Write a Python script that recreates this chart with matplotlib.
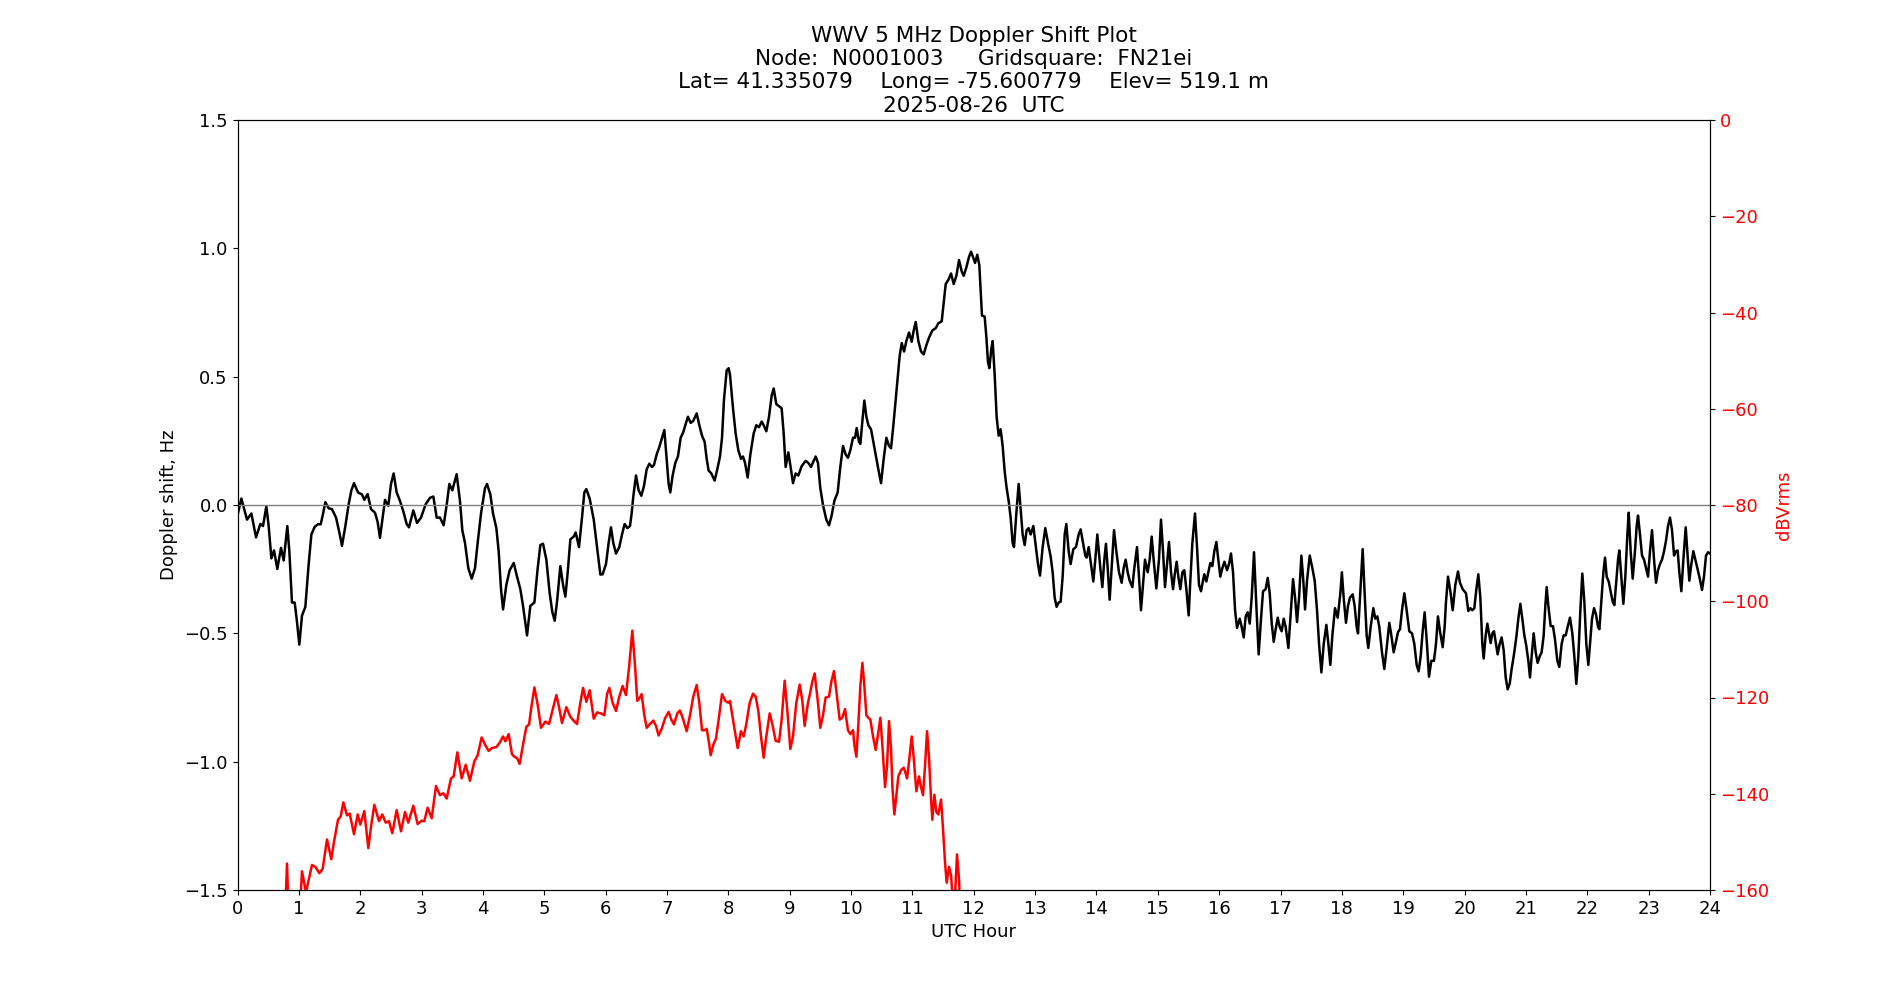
import numpy as np
import matplotlib
matplotlib.use("Agg")
import matplotlib.pyplot as plt

# Doppler shift (hour, Hz)
doppler_pts = [
    (0.000, -0.040), (0.063, 0.025), (0.155, -0.057), (0.226, -0.033), (0.302, -0.126),
    (0.372, -0.074), (0.416, -0.082), (0.470, -0.005), (0.508, -0.082), (0.552, -0.208),
    (0.595, -0.177), (0.649, -0.249), (0.709, -0.167), (0.753, -0.216), (0.812, -0.082),
    (0.845, -0.180), (0.888, -0.380), (0.932, -0.380), (0.964, -0.443), (1.008, -0.544),
    (1.051, -0.431), (1.106, -0.397), (1.160, -0.230), (1.204, -0.115), (1.258, -0.085),
    (1.312, -0.075), (1.356, -0.075), (1.388, -0.041), (1.432, 0.011), (1.486, -0.013),
    (1.540, -0.016), (1.606, -0.049), (1.660, -0.107), (1.703, -0.159), (1.758, -0.082),
    (1.812, 0.003), (1.856, 0.057), (1.899, 0.085), (1.964, 0.049), (2.029, 0.041),
    (2.067, 0.020), (2.121, 0.043), (2.176, -0.016), (2.241, -0.030), (2.284, -0.066),
    (2.322, -0.128), (2.366, -0.049), (2.404, 0.020), (2.458, -0.003), (2.502, 0.082),
    (2.545, 0.123), (2.594, 0.049), (2.648, 0.016), (2.703, -0.025), (2.757, -0.074),
    (2.795, -0.087), (2.866, -0.021), (2.926, -0.070), (2.991, -0.049), (3.067, 0.003),
    (3.137, 0.028), (3.192, 0.033), (3.246, -0.049), (3.300, -0.049), (3.360, -0.079),
    (3.409, 0.000), (3.453, 0.082), (3.501, 0.057), (3.572, 0.120), (3.626, 0.016),
    (3.664, -0.098), (3.708, -0.148), (3.762, -0.246), (3.817, -0.287), (3.871, -0.246),
    (3.914, -0.148), (3.969, -0.033), (4.034, 0.066), (4.067, 0.082), (4.121, 0.041),
    (4.165, -0.033), (4.219, -0.090), (4.257, -0.180), (4.295, -0.328), (4.328, -0.407),
    (4.382, -0.311), (4.436, -0.254), (4.502, -0.226), (4.556, -0.279), (4.610, -0.328),
    (4.654, -0.393), (4.719, -0.508), (4.773, -0.393), (4.839, -0.380), (4.893, -0.246),
    (4.936, -0.156), (4.980, -0.151), (5.034, -0.213), (5.088, -0.344), (5.132, -0.418),
    (5.170, -0.451), (5.208, -0.377), (5.262, -0.238), (5.306, -0.311), (5.344, -0.357),
    (5.382, -0.262), (5.425, -0.134), (5.480, -0.123), (5.512, -0.107), (5.566, -0.164),
    (5.615, -0.049), (5.653, 0.049), (5.686, 0.062), (5.740, 0.025), (5.806, -0.057),
    (5.860, -0.164), (5.914, -0.271), (5.951, -0.270), (6.006, -0.230), (6.049, -0.148),
    (6.087, -0.087), (6.125, -0.148), (6.169, -0.189), (6.223, -0.164), (6.267, -0.115),
    (6.310, -0.074), (6.354, -0.090), (6.397, -0.082), (6.424, -0.033), (6.451, 0.033),
    (6.495, 0.115), (6.538, 0.057), (6.582, 0.036), (6.625, 0.074), (6.669, 0.139),
    (6.712, 0.161), (6.756, 0.148), (6.788, 0.156), (6.832, 0.197), (6.875, 0.226),
    (6.919, 0.262), (6.957, 0.292), (6.995, 0.180), (7.027, 0.082), (7.054, 0.049),
    (7.092, 0.115), (7.136, 0.164), (7.179, 0.189), (7.223, 0.262), (7.266, 0.284),
    (7.310, 0.320), (7.342, 0.344), (7.386, 0.320), (7.429, 0.328), (7.484, 0.357),
    (7.527, 0.311), (7.571, 0.270), (7.614, 0.246), (7.647, 0.180), (7.679, 0.134),
    (7.723, 0.123), (7.777, 0.095), (7.820, 0.139), (7.864, 0.189), (7.897, 0.262),
    (7.929, 0.410), (7.973, 0.525), (8.005, 0.533), (8.027, 0.508), (8.076, 0.377),
    (8.119, 0.279), (8.163, 0.213), (8.206, 0.180), (8.239, 0.189), (8.272, 0.164),
    (8.315, 0.107), (8.359, 0.197), (8.413, 0.279), (8.456, 0.311), (8.500, 0.303),
    (8.543, 0.325), (8.576, 0.311), (8.619, 0.287), (8.663, 0.344), (8.706, 0.426),
    (8.739, 0.454), (8.782, 0.393), (8.826, 0.385), (8.869, 0.377), (8.902, 0.279),
    (8.934, 0.148), (8.978, 0.205), (9.021, 0.139), (9.054, 0.085), (9.097, 0.123),
    (9.141, 0.115), (9.195, 0.151), (9.260, 0.172), (9.304, 0.164), (9.347, 0.148),
    (9.423, 0.189), (9.461, 0.164), (9.499, 0.066), (9.543, 0.000), (9.597, -0.057),
    (9.641, -0.079), (9.684, -0.041), (9.728, 0.016), (9.782, 0.049), (9.825, 0.148),
    (9.869, 0.230), (9.912, 0.197), (9.950, 0.184), (9.988, 0.213), (10.032, 0.262),
    (10.065, 0.262), (10.092, 0.300), (10.130, 0.246), (10.152, 0.238), (10.185, 0.328),
    (10.217, 0.407), (10.250, 0.344), (10.282, 0.311), (10.326, 0.295), (10.369, 0.238),
    (10.413, 0.180), (10.445, 0.139), (10.489, 0.085), (10.532, 0.180), (10.576, 0.262),
    (10.619, 0.230), (10.652, 0.221), (10.690, 0.311), (10.728, 0.410), (10.760, 0.492),
    (10.793, 0.582), (10.826, 0.631), (10.864, 0.598), (10.902, 0.639), (10.945, 0.672),
    (10.989, 0.636), (11.021, 0.680), (11.054, 0.713), (11.097, 0.639), (11.141, 0.598),
    (11.184, 0.587), (11.228, 0.623), (11.271, 0.652), (11.325, 0.680), (11.380, 0.689),
    (11.423, 0.708), (11.478, 0.716), (11.510, 0.787), (11.543, 0.861), (11.586, 0.877),
    (11.630, 0.902), (11.673, 0.861), (11.717, 0.893), (11.760, 0.954), (11.804, 0.910),
    (11.836, 0.893), (11.880, 0.926), (11.923, 0.967), (11.956, 0.987), (11.999, 0.959),
    (12.021, 0.943), (12.058, 0.975), (12.091, 0.934), (12.112, 0.836), (12.134, 0.738),
    (12.178, 0.734), (12.205, 0.656), (12.232, 0.557), (12.254, 0.533), (12.286, 0.607),
    (12.308, 0.639), (12.341, 0.508), (12.373, 0.344), (12.406, 0.270), (12.438, 0.295),
    (12.471, 0.230), (12.504, 0.131), (12.536, 0.066), (12.569, 0.016), (12.601, -0.049),
    (12.634, -0.148), (12.656, -0.164), (12.694, -0.033), (12.732, 0.082), (12.764, -0.016),
    (12.797, -0.115), (12.830, -0.156), (12.862, -0.098), (12.895, -0.090), (12.927, -0.115),
    (12.971, -0.082), (13.014, -0.164), (13.047, -0.230), (13.080, -0.275), (13.123, -0.164),
    (13.166, -0.090), (13.210, -0.148), (13.253, -0.200), (13.286, -0.262), (13.319, -0.361),
    (13.351, -0.397), (13.384, -0.380), (13.416, -0.377), (13.449, -0.279), (13.482, -0.115),
    (13.509, -0.074), (13.547, -0.180), (13.579, -0.230), (13.623, -0.172), (13.666, -0.164),
    (13.710, -0.115), (13.742, -0.095), (13.775, -0.139), (13.818, -0.197), (13.840, -0.205),
    (13.873, -0.164), (13.905, -0.221), (13.949, -0.298), (13.981, -0.213), (14.014, -0.115),
    (14.063, -0.246), (14.096, -0.320), (14.128, -0.213), (14.155, -0.151), (14.183, -0.246),
    (14.215, -0.369), (14.248, -0.246), (14.286, -0.098), (14.324, -0.180), (14.367, -0.262),
    (14.411, -0.303), (14.443, -0.246), (14.476, -0.213), (14.509, -0.262), (14.541, -0.295),
    (14.585, -0.320), (14.617, -0.246), (14.661, -0.164), (14.693, -0.279), (14.726, -0.410),
    (14.759, -0.311), (14.791, -0.213), (14.835, -0.262), (14.867, -0.213), (14.900, -0.123),
    (14.932, -0.213), (14.976, -0.325), (15.019, -0.213), (15.052, -0.057), (15.085, -0.180),
    (15.117, -0.320), (15.150, -0.230), (15.182, -0.144), (15.215, -0.262), (15.248, -0.328),
    (15.280, -0.262), (15.307, -0.221), (15.334, -0.279), (15.367, -0.328), (15.400, -0.262),
    (15.432, -0.254), (15.465, -0.328), (15.503, -0.430), (15.530, -0.295), (15.563, -0.148),
    (15.606, -0.033), (15.639, -0.164), (15.671, -0.311), (15.704, -0.336), (15.736, -0.295),
    (15.758, -0.270), (15.791, -0.298), (15.823, -0.262), (15.856, -0.226), (15.889, -0.238),
    (15.921, -0.180), (15.954, -0.144), (15.986, -0.213), (16.019, -0.279), (16.052, -0.246),
    (16.085, -0.221), (16.128, -0.254), (16.161, -0.230), (16.193, -0.189), (16.226, -0.262),
    (16.259, -0.410), (16.291, -0.479), (16.335, -0.443), (16.367, -0.475), (16.400, -0.516),
    (16.432, -0.434), (16.465, -0.418), (16.498, -0.462), (16.530, -0.361), (16.568, -0.184),
    (16.606, -0.393), (16.644, -0.582), (16.682, -0.443), (16.715, -0.336), (16.758, -0.328),
    (16.791, -0.284), (16.824, -0.344), (16.856, -0.459), (16.889, -0.533), (16.921, -0.484),
    (16.954, -0.439), (16.987, -0.475), (17.019, -0.492), (17.052, -0.443), (17.084, -0.475),
    (17.128, -0.557), (17.160, -0.443), (17.204, -0.289), (17.237, -0.361), (17.269, -0.456),
    (17.302, -0.361), (17.340, -0.197), (17.367, -0.279), (17.400, -0.407), (17.432, -0.295),
    (17.476, -0.197), (17.519, -0.246), (17.557, -0.295), (17.595, -0.410), (17.628, -0.541),
    (17.666, -0.652), (17.704, -0.541), (17.747, -0.467), (17.780, -0.541), (17.812, -0.623),
    (17.845, -0.508), (17.888, -0.402), (17.932, -0.439), (17.975, -0.344), (18.000, -0.262),
    (18.029, -0.361), (18.067, -0.459), (18.100, -0.393), (18.132, -0.361), (18.176, -0.348),
    (18.208, -0.393), (18.241, -0.475), (18.263, -0.500), (18.295, -0.361), (18.339, -0.172),
    (18.371, -0.344), (18.404, -0.508), (18.431, -0.557), (18.469, -0.475), (18.513, -0.402),
    (18.545, -0.443), (18.578, -0.434), (18.610, -0.475), (18.654, -0.574), (18.692, -0.639),
    (18.730, -0.557), (18.773, -0.459), (18.806, -0.508), (18.844, -0.574), (18.882, -0.533),
    (18.915, -0.495), (18.947, -0.484), (18.980, -0.410), (19.018, -0.344), (19.056, -0.410),
    (19.099, -0.492), (19.143, -0.500), (19.181, -0.541), (19.219, -0.623), (19.251, -0.648),
    (19.284, -0.590), (19.317, -0.492), (19.349, -0.418), (19.382, -0.525), (19.420, -0.669),
    (19.458, -0.607), (19.501, -0.607), (19.534, -0.541), (19.566, -0.434), (19.599, -0.492),
    (19.643, -0.554), (19.675, -0.475), (19.697, -0.377), (19.730, -0.279), (19.773, -0.344),
    (19.806, -0.410), (19.849, -0.311), (19.893, -0.259), (19.925, -0.303), (19.969, -0.328),
    (20.023, -0.344), (20.061, -0.413), (20.094, -0.402), (20.126, -0.410), (20.159, -0.402),
    (20.192, -0.328), (20.224, -0.270), (20.257, -0.361), (20.289, -0.541), (20.311, -0.598),
    (20.344, -0.508), (20.371, -0.462), (20.398, -0.500), (20.425, -0.538), (20.452, -0.500),
    (20.479, -0.492), (20.507, -0.533), (20.539, -0.582), (20.572, -0.541), (20.604, -0.516),
    (20.637, -0.566), (20.670, -0.672), (20.702, -0.718), (20.735, -0.697), (20.767, -0.639),
    (20.805, -0.582), (20.843, -0.516), (20.876, -0.443), (20.909, -0.385), (20.941, -0.443),
    (20.974, -0.508), (21.006, -0.549), (21.039, -0.607), (21.066, -0.672), (21.093, -0.590),
    (21.126, -0.500), (21.159, -0.574), (21.191, -0.615), (21.224, -0.590), (21.256, -0.574),
    (21.289, -0.508), (21.316, -0.393), (21.338, -0.320), (21.365, -0.393), (21.403, -0.472),
    (21.441, -0.472), (21.474, -0.525), (21.512, -0.607), (21.544, -0.631), (21.582, -0.541),
    (21.615, -0.508), (21.648, -0.508), (21.680, -0.475), (21.718, -0.439), (21.756, -0.500),
    (21.789, -0.590), (21.821, -0.697), (21.854, -0.590), (21.887, -0.410), (21.919, -0.267),
    (21.952, -0.377), (21.984, -0.541), (22.017, -0.623), (22.044, -0.541), (22.077, -0.443),
    (22.110, -0.402), (22.142, -0.426), (22.175, -0.475), (22.197, -0.484), (22.229, -0.377),
    (22.262, -0.262), (22.289, -0.205), (22.316, -0.279), (22.349, -0.298), (22.381, -0.336),
    (22.414, -0.377), (22.441, -0.390), (22.468, -0.311), (22.501, -0.213), (22.522, -0.177),
    (22.555, -0.279), (22.588, -0.385), (22.620, -0.279), (22.653, -0.115), (22.675, -0.030),
    (22.707, -0.180), (22.740, -0.287), (22.772, -0.197), (22.805, -0.082), (22.827, -0.041),
    (22.859, -0.115), (22.892, -0.197), (22.925, -0.213), (22.957, -0.246), (22.990, -0.279),
    (23.022, -0.180), (23.055, -0.098), (23.088, -0.213), (23.120, -0.303), (23.153, -0.254),
    (23.185, -0.230), (23.218, -0.213), (23.251, -0.180), (23.283, -0.139), (23.316, -0.082),
    (23.348, -0.049), (23.381, -0.098), (23.414, -0.197), (23.446, -0.180), (23.473, -0.177),
    (23.500, -0.262), (23.533, -0.336), (23.566, -0.213), (23.604, -0.087), (23.631, -0.180),
    (23.663, -0.295), (23.696, -0.230), (23.729, -0.180), (23.761, -0.213), (23.794, -0.246),
    (23.826, -0.279), (23.870, -0.331), (23.902, -0.279), (23.935, -0.197), (23.968, -0.184),
    (24.000, -0.189),
]

# received level (hour, dBVrms); points below -160 run off the axis
level_pts = [
    (0.763, -170.0), (0.807, -154.5), (0.845, -170.0), (1.013, -165.0), (1.051, -156.1),
    (1.116, -160.5), (1.214, -154.8), (1.269, -155.2), (1.334, -156.5), (1.388, -155.6),
    (1.459, -149.5), (1.529, -153.6), (1.567, -150.4), (1.638, -145.4), (1.682, -144.7),
    (1.725, -141.8), (1.785, -144.5), (1.828, -144.1), (1.899, -148.4), (1.959, -144.3),
    (2.002, -146.4), (2.067, -143.6), (2.132, -151.3), (2.176, -146.9), (2.230, -142.3),
    (2.306, -145.7), (2.360, -144.3), (2.415, -146.0), (2.469, -145.7), (2.523, -148.2),
    (2.594, -143.4), (2.665, -147.8), (2.730, -143.8), (2.784, -146.0), (2.866, -142.5),
    (2.936, -146.3), (3.002, -145.6), (3.045, -145.7), (3.099, -142.9), (3.165, -145.1),
    (3.235, -138.4), (3.300, -140.3), (3.355, -139.9), (3.409, -141.0), (3.480, -136.8),
    (3.523, -136.4), (3.583, -131.4), (3.654, -136.8), (3.719, -134.0), (3.789, -137.3),
    (3.860, -133.3), (3.914, -132.0), (3.979, -128.3), (4.034, -129.8), (4.094, -131.1),
    (4.148, -130.5), (4.219, -130.3), (4.273, -129.4), (4.328, -128.1), (4.366, -129.1),
    (4.420, -127.6), (4.474, -131.8), (4.513, -132.3), (4.556, -132.6), (4.599, -133.8),
    (4.654, -129.8), (4.708, -126.1), (4.752, -125.6), (4.800, -121.1), (4.839, -117.9),
    (4.893, -121.5), (4.947, -126.3), (5.018, -125.0), (5.078, -125.5), (5.132, -122.8),
    (5.197, -119.5), (5.241, -122.0), (5.289, -125.3), (5.360, -122.0), (5.425, -124.0),
    (5.491, -125.0), (5.534, -125.5), (5.588, -121.1), (5.632, -118.0), (5.686, -120.9),
    (5.740, -118.5), (5.806, -124.4), (5.860, -123.1), (5.925, -123.3), (5.979, -123.7),
    (6.023, -119.3), (6.060, -118.0), (6.114, -121.1), (6.169, -122.8), (6.223, -119.8),
    (6.277, -117.6), (6.332, -119.5), (6.386, -113.2), (6.435, -106.1), (6.478, -113.2),
    (6.516, -120.7), (6.549, -120.2), (6.587, -119.3), (6.631, -123.7), (6.669, -126.3),
    (6.723, -125.5), (6.777, -124.8), (6.821, -125.9), (6.864, -127.9), (6.919, -126.3),
    (6.973, -124.2), (7.027, -123.0), (7.071, -124.6), (7.114, -125.6), (7.168, -123.3),
    (7.212, -122.7), (7.266, -124.6), (7.321, -127.0), (7.375, -123.7), (7.429, -119.8),
    (7.484, -117.4), (7.527, -121.1), (7.571, -126.8), (7.619, -126.8), (7.647, -126.5),
    (7.685, -129.4), (7.712, -132.0), (7.755, -129.8), (7.799, -128.5), (7.842, -124.6),
    (7.897, -119.3), (7.951, -120.7), (8.000, -121.1), (8.027, -120.7), (8.087, -125.5),
    (8.152, -130.5), (8.206, -127.0), (8.250, -128.1), (8.293, -125.5), (8.348, -121.1),
    (8.402, -119.2), (8.445, -119.8), (8.489, -122.8), (8.532, -128.1), (8.576, -132.5),
    (8.619, -128.1), (8.674, -123.3), (8.717, -125.5), (8.771, -129.0), (8.826, -129.2),
    (8.869, -124.6), (8.918, -116.5), (8.962, -122.8), (9.010, -130.7), (9.054, -128.1),
    (9.108, -121.1), (9.163, -117.3), (9.206, -120.7), (9.244, -125.9), (9.298, -121.1),
    (9.336, -118.9), (9.369, -116.7), (9.407, -115.0), (9.461, -121.1), (9.499, -126.3),
    (9.543, -123.7), (9.586, -120.0), (9.641, -119.8), (9.679, -116.7), (9.722, -114.5),
    (9.771, -119.8), (9.815, -124.6), (9.858, -124.2), (9.902, -122.4), (9.950, -126.8),
    (9.988, -127.6), (10.032, -126.8), (10.054, -129.8), (10.087, -132.3), (10.119, -125.5),
    (10.152, -117.6), (10.185, -112.8), (10.217, -117.6), (10.250, -123.7), (10.282, -124.2),
    (10.315, -124.6), (10.358, -128.1), (10.402, -130.9), (10.445, -127.2), (10.478, -124.2),
    (10.510, -129.8), (10.554, -138.6), (10.587, -134.2), (10.619, -124.9), (10.652, -130.7),
    (10.674, -138.6), (10.706, -144.3), (10.739, -140.3), (10.771, -136.4), (10.815, -135.1),
    (10.858, -134.6), (10.891, -135.8), (10.913, -136.8), (10.945, -133.3), (10.989, -128.1),
    (11.021, -132.5), (11.065, -139.5), (11.108, -136.4), (11.141, -138.6), (11.173, -140.3),
    (11.206, -134.2), (11.239, -127.0), (11.271, -132.5), (11.304, -141.2), (11.325, -145.4),
    (11.358, -140.2), (11.391, -143.8), (11.423, -144.3), (11.467, -141.2), (11.499, -147.3),
    (11.532, -154.3), (11.559, -158.5), (11.597, -155.2), (11.630, -156.9), (11.652, -161.0),
    (11.695, -161.0), (11.727, -152.6), (11.760, -157.8), (11.782, -165.0), (11.800, -170.0),
]

title_lines = [
    "WWV 5 MHz Doppler Shift Plot",
    "Node:  N0001003     Gridsquare:  FN21ei",
    "Lat= 41.335079    Long= -75.600779    Elev= 519.1 m",
    "2025-08-26  UTC",
]
hour_ticks = list(range(0, 25))

doppler = np.array(doppler_pts)
level = np.array(level_pts)

fig, ax = plt.subplots(figsize=(19, 10), dpi=100)
ax.plot(doppler[:, 0], doppler[:, 1], color="black", linewidth=1.8)
ax.axhline(0, color="gray", linewidth=1)
ax.set_xlim(0, 24)
ax.set_ylim(-1.5, 1.5)
ax.set_xticks(hour_ticks)
ax.set_xlabel("UTC Hour", fontsize=13)
ax.set_ylabel("Doppler shift, Hz", fontsize=13)
ax.tick_params(labelsize=13)
ax.set_title("\n".join(title_lines), fontsize=15.5)

ax2 = ax.twinx()
ax2.plot(level[:, 0], level[:, 1], color="red", linewidth=1.8)
ax2.set_ylim(-160, 0)
ax2.set_ylabel("dBVrms", color="red", fontsize=13)
ax2.tick_params(axis="y", labelcolor="red", labelsize=13)

plt.savefig("out.png", dpi=100)
